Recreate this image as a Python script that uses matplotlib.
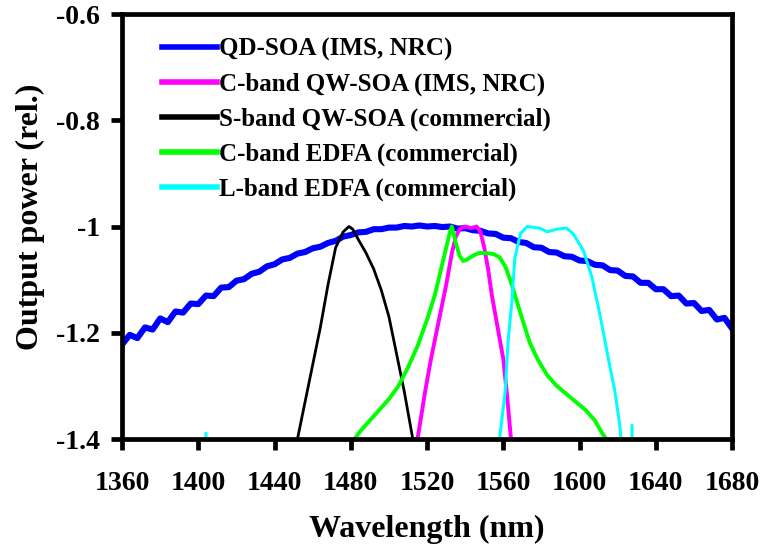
#! /usr/bin/env python3

# Normalised output spectra of several optical amplifiers (QD-SOA, QW-SOAs, EDFAs)

import numpy as np
import matplotlib
matplotlib.use('Agg')
import matplotlib.pyplot as plt

plt.rcParams['font.family'] = ['Liberation Serif', 'DejaVu Serif']
plt.rcParams['font.weight'] = 'bold'
plt.rcParams['axes.unicode_minus'] = False

# QD-SOA (IMS, NRC), sampled every 4 nm
qd_wl = np.arange(1360, 1681, 4)
qd_pw = [-1.222, -1.204, -1.210, -1.190, -1.194, -1.173, -1.180, -1.160, -1.162, -1.145,
         -1.146, -1.130, -1.131, -1.115, -1.114, -1.102, -1.099, -1.089, -1.085, -1.075,
         -1.071, -1.062, -1.059, -1.051, -1.048, -1.041, -1.038, -1.031, -1.027, -1.019,
         -1.016, -1.011, -1.010, -1.005, -1.005, -1.002, -1.002, -0.999, -1.000, -0.998,
         -1.000, -0.999, -1.001, -1.000, -1.004, -1.003, -1.007, -1.008, -1.013, -1.014,
         -1.021, -1.022, -1.029, -1.031, -1.039, -1.040, -1.048, -1.049, -1.056, -1.057,
         -1.064, -1.065, -1.072, -1.073, -1.082, -1.083, -1.093, -1.094, -1.106, -1.106,
         -1.118, -1.118, -1.131, -1.130, -1.145, -1.144, -1.159, -1.157, -1.175, -1.172,
         -1.192]

# C-band QW-SOA (IMS, NRC)
cqw_wl = [1515, 1519, 1522, 1526, 1530, 1533, 1535, 1537, 1540, 1543, 1546, 1548,
          1550, 1552, 1554, 1556, 1558, 1560, 1562, 1564, 1565]
cqw_pw = [-1.40, -1.31, -1.25, -1.18, -1.11, -1.05, -1.02, -1.005, -1.0, -1.003, -1.0, -1.01,
          -1.04, -1.08, -1.13, -1.17, -1.21, -1.25, -1.32, -1.40, -1.41]

# S-band QW-SOA (commercial)
sqw_wl = [1452, 1456, 1460, 1464, 1468, 1472, 1476, 1479, 1481, 1484, 1488, 1492,
          1496, 1500, 1504, 1508, 1511, 1513]
sqw_pw = [-1.40, -1.33, -1.26, -1.19, -1.11, -1.04, -1.01, -1.0, -1.005, -1.025, -1.05, -1.08,
          -1.12, -1.17, -1.24, -1.31, -1.37, -1.41]

# C-band EDFA (commercial)
cedfa_wl = [1480, 1485, 1490, 1495, 1500, 1505, 1510, 1515, 1520, 1524, 1527, 1530, 1532,
            1533, 1535, 1537, 1539, 1541, 1544, 1547, 1551, 1555, 1558, 1561, 1564, 1567,
            1570, 1574, 1578, 1583, 1588, 1593, 1598, 1603, 1608, 1612, 1616]
cedfa_pw = [-1.41, -1.385, -1.365, -1.345, -1.325, -1.30, -1.265, -1.225, -1.175, -1.13,
            -1.085, -1.04, -1.01, -1.0, -1.03, -1.055, -1.065, -1.062, -1.055, -1.05, -1.05,
            -1.052, -1.058, -1.075, -1.105, -1.14, -1.175, -1.22, -1.25, -1.28, -1.30, -1.315,
            -1.33, -1.345, -1.365, -1.39, -1.41]

# L-band EDFA (commercial); nan separates the stray baseline spikes
ledfa_wl = [1404, 1404, np.nan, 1558, 1561, 1562.5, 1564.5, 1566, 1569, 1572.5, 1579, 1583,
            1588, 1593, 1596.5, 1602, 1606.5, 1611, 1615, 1618.5, 1621, 1622, np.nan,
            1627.5, 1627.5]
ledfa_pw = [-1.41, -1.39, np.nan, -1.40, -1.31, -1.215, -1.14, -1.06, -1.013, -1.0, -1.003,
            -1.01, -1.005, -1.003, -1.013, -1.045, -1.096, -1.172, -1.247, -1.31, -1.372,
            -1.41, np.nan, -1.41, -1.375]

series = [
    (qd_wl, qd_pw, 'QD-SOA (IMS, NRC)', '#0000ff', 4.4),
    (cqw_wl, cqw_pw, 'C-band QW-SOA (IMS, NRC)', '#ff00ff', 2.8),
    (sqw_wl, sqw_pw, 'S-band QW-SOA (commercial)', '#000000', 2.0),
    (cedfa_wl, cedfa_pw, 'C-band EDFA (commercial)', '#00ff00', 2.8),
    (ledfa_wl, ledfa_pw, 'L-band EDFA (commercial)', '#00ffff', 2.2),
]

fig = plt.figure(figsize=(7.63, 5.5), dpi=100)
ax = fig.add_axes([0.160, 0.2018, 0.7995, 0.7727])

for wl, pw, name, col, lw in series:
    ax.plot(wl, pw, color=col, lw=lw, label=name, solid_joinstyle='round')

ax.set_xlim(1360, 1680)
ax.set_ylim(-1.4, -0.6)
ax.set_xticks(np.arange(1360, 1681, 40))
ax.set_yticks([-1.4, -1.2, -1.0, -0.8, -0.6])
ax.set_yticklabels(['-1.4', '-1.2', '-1', '-0.8', '-0.6'])

for s in ax.spines.values():
    s.set_linewidth(3.4)
ax.tick_params(direction='out', length=8, width=3.4, labelsize=20)
ax.tick_params(axis='x', pad=15)
ax.tick_params(axis='y', pad=8)

ax.set_xlabel('Wavelength (nm)', fontsize=23, fontweight='bold', labelpad=14)
ax.set_ylabel('Output power (rel.)', fontsize=23, fontweight='bold')
ax.yaxis.set_label_coords(-0.126, 0.522)

leg = ax.legend(loc='upper left', bbox_to_anchor=(0.028, 0.997), frameon=False,
                fontsize=18, handlelength=2.2, handletextpad=0.1, labelspacing=0.46)
for line in leg.get_lines():
    line.set_linewidth(4)

fig.savefig('out.png', dpi=100)
